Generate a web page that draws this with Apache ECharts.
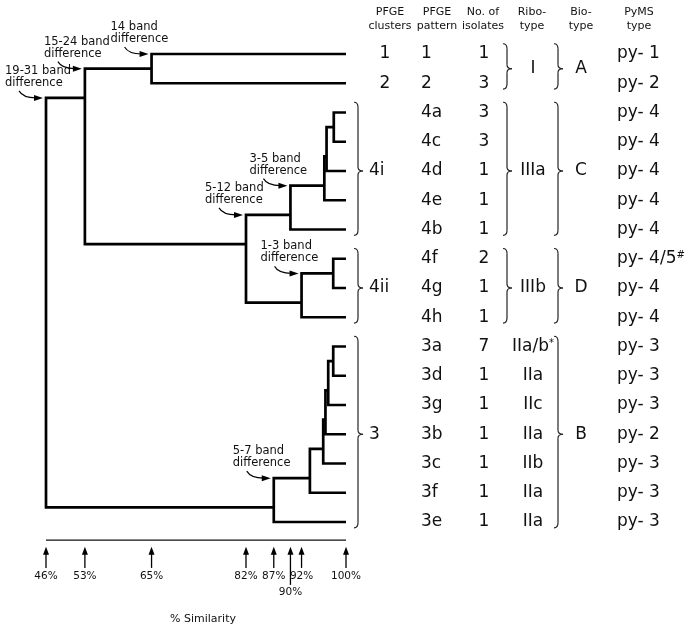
<!DOCTYPE html>
<html><head><meta charset="utf-8">
<script src="https://cdn.jsdelivr.net/npm/echarts@6/dist/echarts.min.js"></script>
<style>html,body{margin:0;padding:0;background:#fff}#c{width:689px;height:631px}</style>
</head><body><div id="c"></div>
<script>
// ================= DATA =================
const LEAVES   = ['1','2','4a','4c','4d','4e','4b','4f','4g','4h','3a','3d','3g','3b','3c','3f','3e'];
const ISOLATES = ['1','3','3','3','1','1','1','2','1','1','7','1','1','1','1','1','1'];
const PYMS     = ['py- 1','py- 2','py- 4','py- 4','py- 4','py- 4','py- 4','py- 4/5#','py- 4','py- 4','py- 3','py- 3','py- 3','py- 2','py- 3','py- 3','py- 3'];

const CLUSTER_LABELS = ['1','2','4i','4ii','3'];
const CLUSTER_FIRST  = ['1','2','4a','4f','3a'];
const CLUSTER_LAST   = ['1','2','4b','4h','3e'];

const RIBO_LABELS = ['I','IIIa','IIIb','IIa/b*','IIa','IIc','IIa','IIb','IIa','IIa'];
const RIBO_FIRST  = ['1','4a','4f','3a','3d','3g','3b','3c','3f','3e'];
const RIBO_LAST   = ['2','4b','4h','3a','3d','3g','3b','3c','3f','3e'];

const BIO_LABELS = ['A','C','D','B'];
const BIO_FIRST  = ['1','4a','4f','3a'];
const BIO_LAST   = ['2','4b','4h','3e'];

const HEADERS = ['PFGE\nclusters','PFGE\npattern','No. of\nisolates','Ribo-\ntype','Bio-\ntype','PyMS\ntype'];

// dendrogram (similarity %), children are leaves or nodes
const NODE_IDS      = ['n1','n2','n3','n4','n5','n6','n7','n8','n9','n10','n11','n12','n13','n14','n15','root'];
const NODE_SIM      = [65, 97.8, 96.5, 96.1, 90, 97.7, 92, 82, 53, 97.7, 96.8, 96.3, 95.9, 93.5, 87, 46];
const NODE_CHILD_A  = ['1','4a','n2','n3','n4','4f','n6','n5','n1','3a','n10','n11','n12','n13','n14','n9'];
const NODE_CHILD_B  = ['2','4c','4d','4e','4b','4g','4h','n7','n8','3d','3g','3b','3c','3f','3e','n15'];
const NODE_JOIN_ROW = [0.5, 2.5, 3.5, 4.5, 5.5, 7.5, 8.5, 6.5, 1.5, 10.5, 11.5, 12.5, 13.5, 14.5, 15.5, null];
const LEAF_SIM = 100;

const NOTE_TEXT = ['19-31 band','15-24 band','14 band','5-12 band','3-5 band','1-3 band','5-7 band'];
const NOTE_NODE = ['root','n9','n1','n8','n5','n7','n15'];

const TICK_VALUES = [46, 53, 65, 82, 87, 90, 92, 100];
const TICK_LABELS = ['46%','53%','65%','82%','87%','90%','92%','100%'];
const AXIS_TITLE = '% Similarity';

// ================= LAYOUT (not data) =================
const FONT = 'DejaVu Sans';
const INK = '#111';
const HEADER_X = [390, 437, 483, 532, 581, 639];
const COL = {cluster: 385, clusterBraced: 369, pattern: 421, isolates: 484, ribo: 533, bio: 581, pyms: 617};
const BRACE_X = {cluster: 358, ribo: 507, bio: 558};
const LOWERED_TICKS = ['90%'];

// ================= HELPERS =================
const ROW_OF = {}; LEAVES.forEach((l, i) => ROW_OF[l] = i);
const NODE_INDEX = {}; NODE_IDS.forEach((n, i) => NODE_INDEX[n] = i);
const isNode = id => Object.prototype.hasOwnProperty.call(NODE_INDEX, id);
const simOf = id => isNode(id) ? NODE_SIM[NODE_INDEX[id]] : LEAF_SIM;
const rowOf = id => isNode(id) ? NODE_JOIN_ROW[NODE_INDEX[id]] : ROW_OF[id];
const topOf = id => Math.min(rowOf(NODE_CHILD_A[NODE_INDEX[id]]), rowOf(NODE_CHILD_B[NODE_INDEX[id]]));

function richify(t) { return t.replace(/([*#])$/, '{s|$1}'); }

function textSeries(xIdx, items, opts) {
  return {
    type: 'custom', coordinateSystem: 'cartesian2d', xAxisIndex: xIdx, yAxisIndex: xIdx,
    silent: true, animation: false,
    data: items.map(it => [it[0], it[1]]),
    renderItem: (params, api) => {
      const p = api.coord([api.value(0), api.value(1)]);
      const t = items[params.dataIndex][2];
      return {
        type: 'text', x: p[0], y: p[1],
        style: {
          text: opts.rich ? richify(t) : t,
          fontFamily: FONT, fontSize: opts.size, fill: INK,
          align: items[params.dataIndex][3] || opts.align || 'center', verticalAlign: 'middle',
          lineHeight: opts.lineHeight,
          rich: opts.rich ? {s: {fontSize: 10, fontFamily: FONT, fill: INK, verticalAlign: 'top'}} : undefined
        }
      };
    }
  };
}

function braceSeries(items) {
  return {
    type: 'custom', coordinateSystem: 'cartesian2d', xAxisIndex: 1, yAxisIndex: 1,
    silent: true, animation: false,
    data: items,
    renderItem: (params, api) => {
      const x = api.value(0);
      const yT = api.coord([x, api.value(1)])[1];
      const yB = api.coord([x, api.value(2)])[1];
      const yM = api.coord([x, api.value(3)])[1];
      const x1 = api.coord([x, 0])[0];
      const st = {stroke: '#222', lineWidth: 1.2, fill: null};
      return {
        type: 'group', children: [
          {type: 'bezierCurve', shape: {x1: x1 - 4, y1: yT, cpx1: x1, cpy1: yT, x2: x1, y2: yT + 5}, style: st},
          {type: 'line', shape: {x1: x1, y1: yT + 5, x2: x1, y2: yM - 4}, style: st},
          {type: 'bezierCurve', shape: {x1: x1, y1: yM - 4, cpx1: x1, cpy1: yM, x2: x1 + 5, y2: yM}, style: st},
          {type: 'bezierCurve', shape: {x1: x1 + 5, y1: yM, cpx1: x1, cpy1: yM, x2: x1, y2: yM + 4}, style: st},
          {type: 'line', shape: {x1: x1, y1: yM + 4, x2: x1, y2: yB - 5}, style: st},
          {type: 'bezierCurve', shape: {x1: x1, y1: yB - 5, cpx1: x1, cpy1: yB, x2: x1 - 4, y2: yB}, style: st}
        ]
      };
    }
  };
}

// ================= BUILD =================
const dendroData = NODE_IDS.map((id, i) => {
  const a = NODE_CHILD_A[i], b = NODE_CHILD_B[i];
  return [NODE_SIM[i], simOf(a), rowOf(a), simOf(b), rowOf(b)];
});

const noteData = NOTE_NODE.map(id => [simOf(id), topOf(id)]);

const ROW_BASELINE = 16.62, ROW_TIP = 16.85, ROW_TAIL = 17.57, ROW_TAIL_LOW = 18.15, ROW_LABEL = 17.85, ROW_LABEL_LOW = 18.39;

const headerItems = HEADERS.map((h, i) => [HEADER_X[i], -1.2, h]);
const clusterItems = CLUSTER_LABELS.map((l, i) => {
  const f = ROW_OF[CLUSTER_FIRST[i]], la = ROW_OF[CLUSTER_LAST[i]];
  return f === la ? [COL.cluster, f, l, 'center'] : [COL.clusterBraced, (f + la) / 2, l, 'left'];
});
const patternItems = LEAVES.map((l, i) => [COL.pattern, i, l, 'left']);
const isoItems = ISOLATES.map((v, i) => [COL.isolates, i, v]);
const riboItems = RIBO_LABELS.map((l, i) => [COL.ribo, (ROW_OF[RIBO_FIRST[i]] + ROW_OF[RIBO_LAST[i]]) / 2, l]);
const bioItems = BIO_LABELS.map((l, i) => [COL.bio, (ROW_OF[BIO_FIRST[i]] + ROW_OF[BIO_LAST[i]]) / 2, l]);
const pymsItems = PYMS.map((v, i) => [COL.pyms, i, v, 'left']);

function braceItems(x, firsts, lasts) {
  const out = [];
  firsts.forEach((f, i) => {
    const a = ROW_OF[f], b = ROW_OF[lasts[i]];
    if (a !== b) out.push([x, a - 0.35, b + 0.2, (a + b) / 2]);
  });
  return out;
}

const chart = echarts.init(document.getElementById('c'), null, {renderer: 'canvas'});
chart.setOption({
  backgroundColor: '#fff',
  animation: false,
  grid: [
    {left: 46, top: 54, width: 300, height: 19 * 29.25, containLabel: false, outerBoundsMode: 'none'},
    {left: 0, top: 54, width: 689, height: 19 * 29.25, containLabel: false, outerBoundsMode: 'none'}
  ],
  xAxis: [
    {type: 'value', gridIndex: 0, min: 46, max: 100, show: false},
    {type: 'value', gridIndex: 1, min: 0, max: 689, show: false}
  ],
  yAxis: [
    {type: 'value', gridIndex: 0, min: 0, max: 19, inverse: true, show: false},
    {type: 'value', gridIndex: 1, min: 0, max: 19, inverse: true, show: false}
  ],
  graphic: [{
    type: 'text', x: 203, y: 619,
    style: {text: AXIS_TITLE, fontFamily: FONT, fontSize: 11, fill: INK, align: 'center', verticalAlign: 'middle'}
  }],
  series: [
    {
      type: 'custom', coordinateSystem: 'cartesian2d', xAxisIndex: 0, yAxisIndex: 0,
      silent: true, animation: false, data: dendroData,
      renderItem: (params, api) => {
        const s = api.value(0);
        const p1 = api.coord([api.value(1), api.value(2)]);
        const p2 = api.coord([s, api.value(2)]);
        const p3 = api.coord([s, api.value(4)]);
        const p4 = api.coord([api.value(3), api.value(4)]);
        return {type: 'polyline', shape: {points: [p1, p2, p3, p4]},
          style: {stroke: '#000', lineWidth: 2.7, fill: null, lineJoin: 'miter', lineCap: 'butt'}};
      }
    },
    {
      type: 'custom', coordinateSystem: 'cartesian2d', xAxisIndex: 0, yAxisIndex: 0,
      silent: true, animation: false, data: noteData,
      renderItem: (params, api) => {
        const p = api.coord([api.value(0), api.value(1)]);
        const tx = p[0] - 3, ty = p[1];
        const st = {stroke: '#000', lineWidth: 1.1, fill: null};
        return {type: 'group', children: [
          {type: 'text', x: tx - 38, y: ty - 21, style: {
            text: NOTE_TEXT[params.dataIndex] + '\ndifference', fontFamily: FONT, fontSize: 11.5,
            fill: INK, align: 'left', verticalAlign: 'middle', lineHeight: 12}},
          {type: 'bezierCurve', shape: {x1: tx - 24, y1: ty - 7, cpx1: tx - 20, cpy1: ty, x2: tx - 7, y2: ty}, style: st},
          {type: 'polygon', shape: {points: [[tx, ty], [tx - 9, ty - 3], [tx - 9, ty + 3]]}, style: {fill: '#000'}}
        ]};
      }
    },
    {
      type: 'custom', coordinateSystem: 'cartesian2d', xAxisIndex: 0, yAxisIndex: 0,
      silent: true, animation: false,
      data: [[TICK_VALUES[0], TICK_VALUES[TICK_VALUES.length - 1], ROW_BASELINE]],
      renderItem: (params, api) => {
        const a = api.coord([api.value(0), api.value(2)]);
        const b = api.coord([api.value(1), api.value(2)]);
        return {type: 'line', shape: {x1: a[0], y1: a[1], x2: b[0], y2: b[1]}, style: {stroke: '#111', lineWidth: 1.4}};
      }
    },
    {
      type: 'custom', coordinateSystem: 'cartesian2d', xAxisIndex: 0, yAxisIndex: 0,
      silent: true, animation: false,
      data: TICK_VALUES.map(v => [v]),
      renderItem: (params, api) => {
        const v = api.value(0);
        const lab = TICK_LABELS[params.dataIndex];
        const low = LOWERED_TICKS.indexOf(lab) >= 0;
        const tip = api.coord([v, ROW_TIP]);
        const tail = api.coord([v, low ? ROW_TAIL_LOW : ROW_TAIL]);
        const lp = api.coord([v, low ? ROW_LABEL_LOW : ROW_LABEL]);
        return {type: 'group', children: [
          {type: 'line', shape: {x1: tip[0], y1: tip[1] + 6, x2: tail[0], y2: tail[1]}, style: {stroke: '#000', lineWidth: 1.3}},
          {type: 'polygon', shape: {points: [[tip[0], tip[1]], [tip[0] - 3, tip[1] + 8], [tip[0] + 3, tip[1] + 8]]}, style: {fill: '#000'}},
          {type: 'text', x: lp[0], y: lp[1], style: {text: lab, fontFamily: FONT, fontSize: 10.5, fill: INK, align: 'center', verticalAlign: 'middle'}}
        ]};
      }
    },
    textSeries(1, headerItems, {size: 11, lineHeight: 14}),
    textSeries(1, clusterItems, {size: 17}),
    textSeries(1, patternItems, {size: 17}),
    textSeries(1, isoItems, {size: 17}),
    textSeries(1, riboItems, {size: 17, rich: true}),
    textSeries(1, bioItems, {size: 17}),
    textSeries(1, pymsItems, {size: 17, rich: true}),
    braceSeries(braceItems(BRACE_X.cluster, CLUSTER_FIRST, CLUSTER_LAST)),
    braceSeries(braceItems(BRACE_X.ribo, RIBO_FIRST, RIBO_LAST)),
    braceSeries(braceItems(BRACE_X.bio, BIO_FIRST, BIO_LAST))
  ]
});
</script></body></html>
